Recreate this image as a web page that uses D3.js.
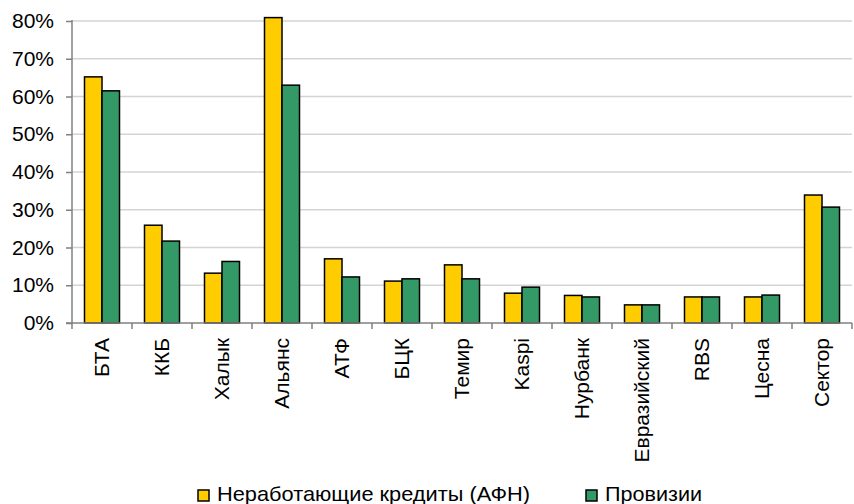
<!DOCTYPE html>
<html lang="ru">
<head>
    <meta charset="utf-8">
    <title>Неработающие кредиты и провизии</title>
    <script src="https://d3js.org/d3.v7.min.js"></script>
    <style>
        html, body {
            margin: 0;
            padding: 0;
            background: #fff;
        }
        text {
            font-family: "Liberation Sans", Arial, sans-serif;
            fill: #000;
        }
        .grid line {
            stroke: #d4d4d4;
            stroke-width: 1.5px;
        }
        .axis path, .axis line {
            stroke: #808080;
            stroke-width: 1.5px;
        }
        rect.bar {
            stroke: #000;
            stroke-width: 1.5px;
        }
    </style>
</head>
<body>
<script>

    // data
    var banks = ["БТА", "ККБ", "Халык", "Альянс", "АТФ", "БЦК", "Темир", "Kaspi",
        "Нурбанк", "Евразийский", "RBS", "Цесна", "Сектор"];
    var npl = [65.2, 25.9, 13.2, 80.9, 17.0, 11.1, 15.4, 7.9, 7.3, 4.8, 6.9, 6.9, 33.9];
    var provisions = [61.5, 21.7, 16.3, 63.0, 12.2, 11.7, 11.7, 9.5, 6.9, 4.8, 6.9, 7.4, 30.7];
    var seriesNames = ["Неработающие кредиты (АФН)", "Провизии"];
    var seriesColors = ["#ffcc00", "#339966"];
    var yTicks = [0, 10, 20, 30, 40, 50, 60, 70, 80];

    (function() {
        var w = 854, h = 504;
        var plotLeft = 72, plotRight = 852, plotTop = 21, plotBottom = 323;

        var svg = d3.select("body").append("svg")
            .attr("width", w)
            .attr("height", h);

        var x0 = d3.scaleBand()
            .domain(banks)
            .range([plotLeft, plotRight]);

        var x1 = d3.scaleBand()
            .domain(seriesNames)
            .range([12.5, 47.5]);

        var y = d3.scaleLinear()
            .domain([0, 80])
            .range([plotBottom, plotTop]);

        // gridlines
        svg.append("g")
            .attr("class", "grid")
            .selectAll("line")
            .data(yTicks.slice(1))
            .enter().append("line")
            .attr("x1", plotLeft)
            .attr("x2", plotRight)
            .attr("y1", d => y(d))
            .attr("y2", d => y(d));

        // bars
        var groups = svg.append("g")
            .selectAll("g")
            .data(banks)
            .enter().append("g")
            .attr("transform", d => "translate(" + x0(d) + ",0)");

        groups.selectAll("rect")
            .data((d, i) => [npl[i], provisions[i]].map((v, j) => ({s: seriesNames[j], v: v, c: seriesColors[j]})))
            .enter().append("rect")
            .attr("class", "bar")
            .attr("x", d => x1(d.s))
            .attr("width", x1.bandwidth())
            .attr("y", d => y(d.v))
            .attr("height", d => plotBottom - y(d.v))
            .attr("fill", d => d.c);

        // y axis
        var yAxis = d3.axisLeft(y)
            .tickValues(yTicks)
            .tickSize(6)
            .tickPadding(12)
            .tickFormat(d => d + "%");

        var gy = svg.append("g")
            .attr("class", "axis")
            .attr("transform", "translate(" + plotLeft + ",0)")
            .call(yAxis);
        gy.select(".domain").attr("d", "M0," + (plotTop - 1) + "V" + plotBottom);
        gy.selectAll("text").style("font-size", "21px");

        // x axis
        var gx = svg.append("g")
            .attr("class", "axis")
            .attr("transform", "translate(0," + plotBottom + ")");

        gx.append("line")
            .attr("x1", plotLeft - 6).attr("x2", plotRight)
            .attr("y1", 0).attr("y2", 0);

        gx.selectAll("line.tick")
            .data(banks.concat(["end"]))
            .enter().append("line")
            .attr("class", "tick")
            .attr("x1", (d, i) => i < banks.length ? x0(d) : plotRight)
            .attr("x2", (d, i) => i < banks.length ? x0(d) : plotRight)
            .attr("y1", 0).attr("y2", 6);

        gx.selectAll("text")
            .data(banks)
            .enter().append("text")
            .attr("transform", d => "translate(" + (x0(d) + x0.bandwidth() / 2 + 7) + ",15) rotate(-90)")
            .attr("text-anchor", "end")
            .style("font-size", "21px")
            .text(d => d);

        // legend
        var legendX = [198, 586];
        var legendW = [313, 97];
        var legend = svg.append("g")
            .selectAll("g")
            .data(seriesNames)
            .enter().append("g")
            .attr("transform", (d, i) => "translate(" + legendX[i] + ",490)");

        legend.append("rect")
            .attr("width", 11)
            .attr("height", 11)
            .attr("fill", (d, i) => seriesColors[i])
            .attr("stroke", "#000")
            .attr("stroke-width", 1.5);

        legend.append("text")
            .attr("x", 19)
            .attr("y", 10.5)
            .attr("textLength", (d, i) => legendW[i])
            .attr("lengthAdjust", "spacingAndGlyphs")
            .style("font-size", "21px")
            .text(d => d);
    })();

</script>
</body>
</html>
